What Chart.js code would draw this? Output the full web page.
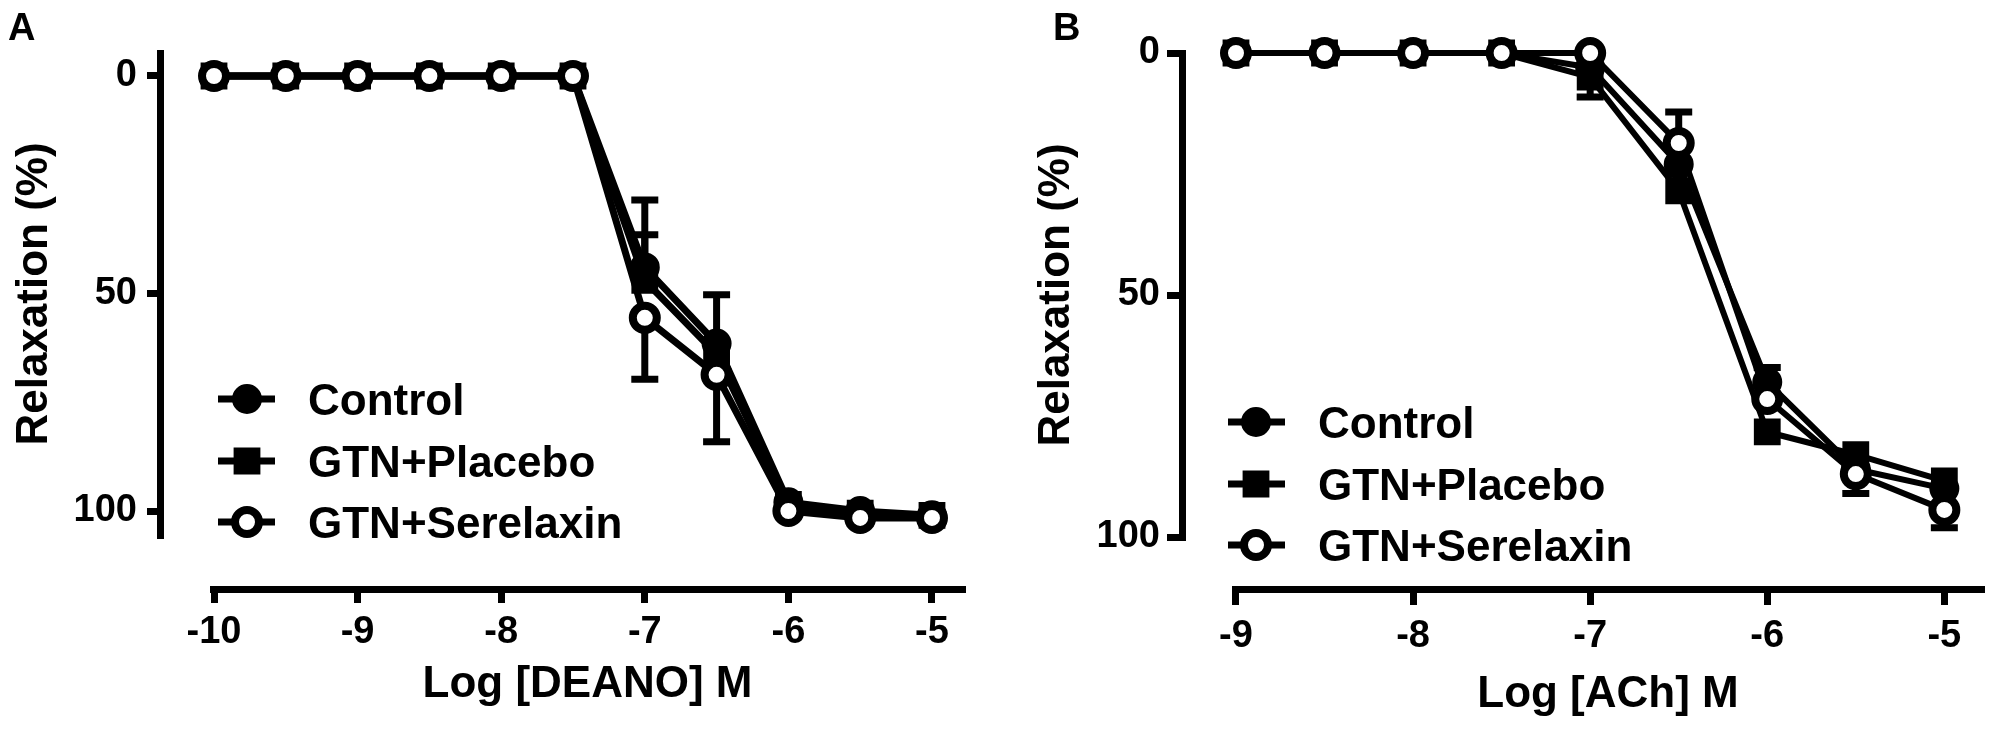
<!DOCTYPE html>
<html>
<head>
<meta charset="utf-8">
<script src="https://cdn.jsdelivr.net/npm/chart.js@4/dist/chart.umd.min.js"></script>
<style>
  body { margin: 0; background: #fff; }
  canvas { position: absolute; top: 0; width: 1001px; height: 730px; }
  #panelA { left: 0; }
  #panelB { left: 1001px; }
</style>
</head>
<body>
<canvas id="panelA" width="1001" height="730"></canvas>
<canvas id="panelB" width="1001" height="730"></canvas>
<script>
/* eslint-disable no-undef */

const seriesLabels = ['Control', 'GTN+Placebo', 'GTN+Serelaxin']

// panel A, DEANO
const deanoLog = [-10, -9.5, -9, -8.5, -8, -7.5, -7, -6.5, -6, -5.5, -5]
const deanoControl = [0, 0, 0, 0, 0, 0, 44, 61.5, 98, 100, 101]
const deanoPlacebo = [0, 0, 0, 0, 0, 0, 47, 64, 98.5, 100.5, 101]
const deanoSerelaxin = [0, 0, 0, 0, 0, 0, 55.6, 68.7, 100, 101.6, 101.6]
// signed SEM, only the visible side of each bar
const deanoControlErr = [0, 0, 0, 0, 0, 0, -15.5, -11.2, 0, 0, 0]
const deanoPlaceboErr = [0, 0, 0, 0, 0, 0, -10.5, 0, 0, 0, 0]
const deanoSerelaxinErr = [0, 0, 0, 0, 0, 0, 14.1, 15.4, 0, 0, 0]
const deanoTicks = [-10, -9, -8, -7, -6, -5]

// panel B, ACh
const achLog = [-9, -8.5, -8, -7.5, -7, -6.5, -6, -5.5, -5]
const achControl = [0, 0, 0, 0, 3, 23, 68, 86, 90]
const achPlacebo = [0, 0, 0, 0, 5, 28.5, 78.3, 83, 88.4]
const achSerelaxin = [0, 0, 0, 0, 0, 18.6, 71.5, 87, 94.4]
const achControlErr = [0, 0, 0, 0, 0, 0, -3, 0, 0]
const achPlaceboErr = [0, 0, 0, 0, 4.1, 0, 0, 0, 0]
const achSerelaxinErr = [0, 0, 0, 0, 0, -6.4, 0, 4, 3.7]
const achTicks = [-9, -8, -7, -6, -5]

const relaxTicks = [0, 50, 100]

const FONT = '"Liberation Sans", Arial, Helvetica, sans-serif'
const INK = '#000'

const markers = [
  { pointStyle: 'circle', pointRadius: 11.5, pointBorderWidth: 7, pointBackgroundColor: INK, order: 3 },
  { pointStyle: 'rect', pointRadius: 14, pointBorderWidth: 7, pointBackgroundColor: INK, order: 2 },
  { pointStyle: 'circle', pointRadius: 12, pointBorderWidth: 8, pointBackgroundColor: '#fff', order: 1 }
]

// Prism style: y axis pulled left, x axis pulled down, away from the plot
const shiftAxes = {
  id: 'shiftAxes',
  afterLayout (chart, args, opts) {
    chart.scales.y.right += opts.dx
    chart.scales.x.top += opts.dy
  }
}

const errorBars = {
  id: 'errorBars',
  beforeDatasetsDraw (chart, args, opts) {
    const { ctx, scales: { x, y } } = chart
    ctx.save()
    ctx.strokeStyle = INK
    ctx.lineWidth = opts.width
    chart.data.datasets.forEach((ds) => {
      ds.errors.forEach((err, i) => {
        if (!err) return
        const px = x.getPixelForValue(ds.data[i].x)
        const from = y.getPixelForValue(ds.data[i].y)
        const to = y.getPixelForValue(ds.data[i].y + err)
        ctx.beginPath()
        ctx.moveTo(px, from)
        ctx.lineTo(px, to)
        ctx.moveTo(px - opts.cap, to)
        ctx.lineTo(px + opts.cap, to)
        ctx.stroke()
      })
    })
    ctx.restore()
  }
}

const seriesKey = {
  id: 'seriesKey',
  afterDatasetsDraw (chart, args, opts) {
    const { ctx } = chart
    ctx.save()
    chart.data.datasets.forEach((ds, i) => {
      const cy = opts.rows[i]
      ctx.strokeStyle = INK
      ctx.lineWidth = opts.lineWidth
      ctx.beginPath()
      ctx.moveTo(opts.x1, cy)
      ctx.lineTo(opts.x2, cy)
      ctx.stroke()
      ctx.fillStyle = ds.pointBackgroundColor
      ctx.lineWidth = ds.pointBorderWidth
      const style = { pointStyle: ds.pointStyle, radius: ds.pointRadius, borderWidth: ds.pointBorderWidth, rotation: 0 }
      if (Chart.helpers && Chart.helpers.drawPoint) {
        Chart.helpers.drawPoint(ctx, style, opts.markX, cy)
      } else {
        ctx.beginPath()
        ctx.arc(opts.markX, cy, ds.pointRadius, 0, Math.PI * 2)
        ctx.fill()
        ctx.stroke()
      }
      ctx.fillStyle = INK
      ctx.font = `bold 44px ${FONT}`
      ctx.textAlign = 'left'
      ctx.textBaseline = 'alphabetic'
      ctx.fillText(ds.label, opts.textX, cy + 15.5)
    })
    ctx.restore()
  }
}

const panelTag = {
  id: 'panelTag',
  afterDraw (chart, args, opts) {
    const { ctx } = chart
    ctx.save()
    ctx.fillStyle = INK
    ctx.font = `bold 38px ${FONT}`
    ctx.textBaseline = 'alphabetic'
    ctx.fillText(opts.text, opts.x, opts.y)
    ctx.restore()
  }
}

const buildPanel = (id, cfg) => new Chart(document.getElementById(id), {
  type: 'line',
  data: {
    datasets: cfg.series.map((values, i) => ({
      label: seriesLabels[i],
      data: values.map((y, j) => ({ x: cfg.xs[j], y })),
      errors: cfg.errors[i],
      borderColor: INK,
      borderWidth: cfg.lineWidth,
      borderJoinStyle: 'round',
      pointBorderColor: INK,
      tension: 0,
      fill: false,
      clip: false,
      ...markers[i]
    }))
  },
  options: {
    animation: false,
    responsive: false,
    devicePixelRatio: 1,
    events: [],
    layout: { padding: { left: 0, top: 53, right: cfg.padRight, bottom: 0 } },
    plugins: {
      legend: { display: false },
      tooltip: { enabled: false },
      shiftAxes: { dx: cfg.dx, dy: cfg.dy },
      errorBars: { width: 7, cap: 13.5 },
      seriesKey: cfg.key,
      panelTag: cfg.tag
    },
    scales: {
      x: {
        type: 'linear',
        min: cfg.xMin,
        max: cfg.xMax,
        afterBuildTicks: (scale) => { scale.ticks = cfg.xTicks.map((value) => ({ value })) },
        afterFit: (scale) => { scale.height = cfg.xHeight },
        border: { display: true, width: 7, color: INK },
        grid: { drawOnChartArea: false, drawTicks: true, tickLength: cfg.xTickLen, lineWidth: 7, color: INK },
        ticks: { color: INK, padding: cfg.xTickPad, maxRotation: 0, autoSkip: false, font: { family: FONT, size: 38, weight: 'bold' }, callback: (v) => String(v) },
        title: { display: true, text: cfg.xTitle, color: INK, padding: { top: 0, bottom: cfg.xTitlePad }, font: { family: FONT, size: 44, weight: 'bold' } }
      },
      y: {
        type: 'linear',
        reverse: true,
        min: cfg.yMin,
        max: cfg.yMax,
        afterBuildTicks: (scale) => { scale.ticks = relaxTicks.map((value) => ({ value })) },
        afterFit: (scale) => { scale.width = cfg.yWidth },
        border: { display: true, width: 7, color: INK },
        grid: { drawOnChartArea: false, drawTicks: true, tickLength: cfg.yTickLen, lineWidth: 7, color: INK },
        ticks: { color: INK, padding: cfg.yTickPad, font: { family: FONT, size: 38, weight: 'bold' }, callback: (v) => String(v) },
        title: { display: true, text: 'Relaxation (%)', color: INK, padding: { top: cfg.yTitlePad, bottom: 0 }, font: { family: FONT, size: 44, weight: 'bold' } }
      }
    }
  },
  plugins: [shiftAxes, errorBars, seriesKey, panelTag]
})

document.addEventListener('DOMContentLoaded', () => {
  buildPanel('panelA', {
    xs: deanoLog,
    series: [deanoControl, deanoPlacebo, deanoSerelaxin],
    errors: [deanoControlErr, deanoPlaceboErr, deanoSerelaxinErr],
    xTicks: deanoTicks,
    xTitle: 'Log [DEANO] M',
    lineWidth: 7,
    xMin: -10.007,
    xMax: -4.791,
    yMin: -5.287,
    yMax: 105.517,
    padRight: 39,
    xHeight: 195,
    yWidth: 213,
    dx: -53,
    dy: 54,
    xTickLen: 14,
    xTickPad: 7,
    yTickLen: 13,
    yTickPad: 10,
    xTitlePad: 18.8,
    yTitlePad: 8.4,
    key: { rows: [399, 461, 522], x1: 218, x2: 275, markX: 247, textX: 308, lineWidth: 7 },
    tag: { text: 'A', x: 8, y: 40 }
  })
  buildPanel('panelB', {
    xs: achLog,
    series: [achControl, achPlacebo, achSerelaxin],
    errors: [achControlErr, achPlaceboErr, achSerelaxinErr],
    xTicks: achTicks,
    xTitle: 'Log [ACh] M',
    lineWidth: 6,
    xMin: -9.0056,
    xMax: -4.793,
    yMin: 0,
    yMax: 100,
    padRight: 15,
    xHeight: 193,
    yWidth: 234,
    dx: -53,
    dy: 52.5,
    xTickLen: 15.5,
    xTickPad: 9,
    yTickLen: 15,
    yTickPad: 7,
    xTitlePad: 9,
    yTitlePad: 29.4,
    key: { rows: [422, 484, 545], x1: 227, x2: 284, markX: 255, textX: 317, lineWidth: 7 },
    tag: { text: 'B', x: 52, y: 40 }
  })
})
</script>
</body>
</html>
